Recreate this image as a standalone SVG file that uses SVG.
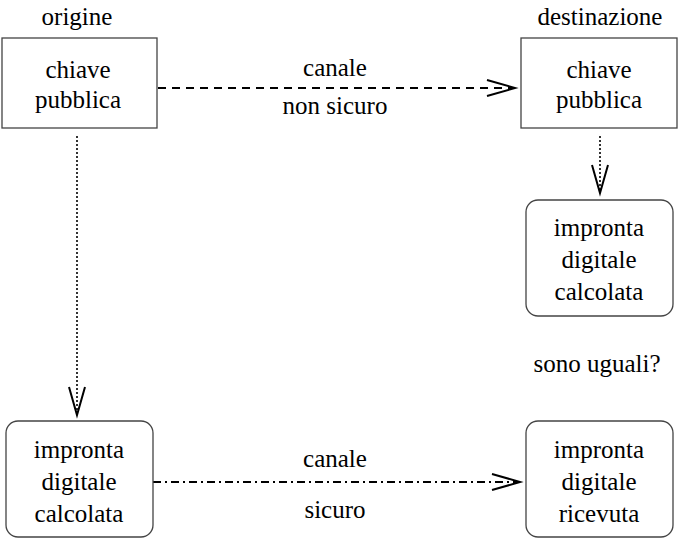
<svg xmlns="http://www.w3.org/2000/svg" width="680" height="539" viewBox="0 0 680 539">
<g font-family="Liberation Serif" font-size="25" text-anchor="middle" fill="#000">
<text x="77" y="25">origine</text>
<text x="600" y="25">destinazione</text>
<text x="597" y="372">sono uguali?</text>
</g>
<g id="connectors" fill="none" stroke="#000" stroke-width="2">
<path d="M158,88 H513" stroke-dasharray="8 6"/>
<path d="M487,80 L515,88 L487,96"/>
<path d="M77,136 V413" stroke-dasharray="2 2" stroke-width="1.6"/>
<path d="M69,387 L77,415 L85,387"/>
<path d="M600,136 V191" stroke-dasharray="2 2" stroke-width="1.6"/>
<path d="M592,165 L600,193 L608,165"/>
<path d="M153,482 H518" stroke-dasharray="8 4 2 4"/>
<path d="M492,474 L520,482 L492,490"/>
<g font-family="Liberation Serif" font-size="25" text-anchor="middle" fill="#000" stroke="none">
<text x="335" y="76">canale</text>
<text x="335" y="114">non sicuro</text>
<text x="335" y="467">canale</text>
<text x="335" y="518">sicuro</text>
</g>
</g>
<g id="n1">
<rect x="2" y="38" width="155" height="90" fill="#fff" stroke="#444" stroke-width="1.3"/>
<g font-family="Liberation Serif" font-size="25" text-anchor="middle">
<text x="78" y="78">chiave</text>
<text x="78" y="108">pubblica</text>
</g>
</g>
<g id="n2">
<rect x="521" y="38" width="156" height="90" fill="#fff" stroke="#444" stroke-width="1.3"/>
<g font-family="Liberation Serif" font-size="25" text-anchor="middle">
<text x="599" y="78">chiave</text>
<text x="599" y="108">pubblica</text>
</g>
</g>
<g id="n3">
<rect x="526" y="200" width="147" height="116" rx="12" fill="#fff" stroke="#444" stroke-width="1.3"/>
<g font-family="Liberation Serif" font-size="25" text-anchor="middle">
<text x="599" y="236">impronta</text>
<text x="599" y="268">digitale</text>
<text x="599" y="300">calcolata</text>
</g>
</g>
<g id="n4">
<rect x="6" y="421" width="147" height="116" rx="12" fill="#fff" stroke="#444" stroke-width="1.3"/>
<g font-family="Liberation Serif" font-size="25" text-anchor="middle">
<text x="79" y="458">impronta</text>
<text x="79" y="490">digitale</text>
<text x="79" y="522">calcolata</text>
</g>
</g>
<g id="n5">
<rect x="526" y="421" width="147" height="116" rx="12" fill="#fff" stroke="#444" stroke-width="1.3"/>
<g font-family="Liberation Serif" font-size="25" text-anchor="middle">
<text x="599" y="458">impronta</text>
<text x="599" y="490">digitale</text>
<text x="599" y="522">ricevuta</text>
</g>
</g>
</svg>
